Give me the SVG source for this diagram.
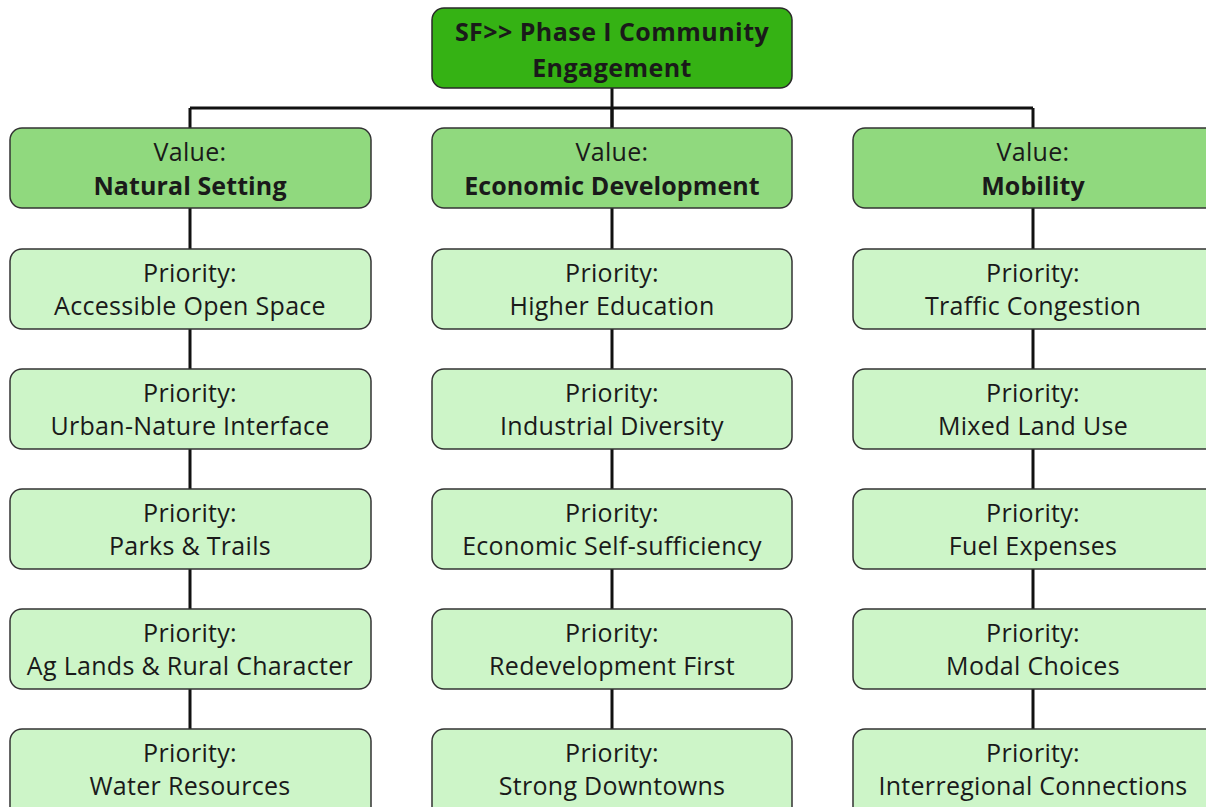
<svg xmlns="http://www.w3.org/2000/svg" width="1206" height="807" viewBox="0 0 1206 807">
<style>
.root{fill:#35b214;stroke:#2a2a2a;stroke-width:1.5}
.val{fill:#90d97e;stroke:#333;stroke-width:1.5}
.pri{fill:#cdf5c8;stroke:#333;stroke-width:1.5}
text{font-family:"Open Sans","Noto Sans",sans-serif;font-size:25px;fill:#1a1a1a;text-anchor:middle;letter-spacing:0.3px}
.b{font-weight:bold;letter-spacing:0.1px}
.r{letter-spacing:0.45px}
.conn line{stroke:#111;stroke-width:3}
</style>
<rect width="1206" height="807" fill="#fff"/>
<g class="conn">
<line x1="612" y1="88" x2="612" y2="128"/>
<line x1="190" y1="108" x2="1033" y2="108"/>
<line x1="190" y1="108" x2="190" y2="729"/>
<line x1="612" y1="108" x2="612" y2="729"/>
<line x1="1033" y1="108" x2="1033" y2="729"/>
</g>
<g id="root"><rect class="root" x="432" y="8" width="360" height="80" rx="12"/><text class="b r" x="612" y="41">SF&gt;&gt; Phase I Community</text><text class="b r" x="612" y="77">Engagement</text></g>
<g id="v1"><rect class="val" x="10" y="128" width="361" height="80" rx="12"/><text x="190" y="161">Value:</text><text class="b" x="190" y="195">Natural Setting</text></g>
<g id="v2"><rect class="val" x="432" y="128" width="360" height="80" rx="12"/><text x="612" y="161">Value:</text><text class="b" x="612" y="195">Economic Development</text></g>
<g id="v3"><rect class="val" x="853" y="128" width="365" height="80" rx="12"/><text x="1033" y="161">Value:</text><text class="b" x="1033" y="195">Mobility</text></g>
<g id="p11"><rect class="pri" x="10" y="249" width="361" height="80" rx="12"/><text x="190" y="282">Priority:</text><text x="190" y="315">Accessible Open Space</text></g>
<g id="p12"><rect class="pri" x="10" y="369" width="361" height="80" rx="12"/><text x="190" y="402">Priority:</text><text x="190" y="435">Urban-Nature Interface</text></g>
<g id="p13"><rect class="pri" x="10" y="489" width="361" height="80" rx="12"/><text x="190" y="522">Priority:</text><text x="190" y="555">Parks &amp; Trails</text></g>
<g id="p14"><rect class="pri" x="10" y="609" width="361" height="80" rx="12"/><text x="190" y="642">Priority:</text><text x="190" y="675">Ag Lands &amp; Rural Character</text></g>
<g id="p15"><rect class="pri" x="10" y="729" width="361" height="90" rx="12"/><text x="190" y="762">Priority:</text><text x="190" y="795">Water Resources</text></g>
<g id="p21"><rect class="pri" x="432" y="249" width="360" height="80" rx="12"/><text x="612" y="282">Priority:</text><text x="612" y="315">Higher Education</text></g>
<g id="p22"><rect class="pri" x="432" y="369" width="360" height="80" rx="12"/><text x="612" y="402">Priority:</text><text x="612" y="435">Industrial Diversity</text></g>
<g id="p23"><rect class="pri" x="432" y="489" width="360" height="80" rx="12"/><text x="612" y="522">Priority:</text><text x="612" y="555">Economic Self-sufficiency</text></g>
<g id="p24"><rect class="pri" x="432" y="609" width="360" height="80" rx="12"/><text x="612" y="642">Priority:</text><text x="612" y="675">Redevelopment First</text></g>
<g id="p25"><rect class="pri" x="432" y="729" width="360" height="90" rx="12"/><text x="612" y="762">Priority:</text><text x="612" y="795">Strong Downtowns</text></g>
<g id="p31"><rect class="pri" x="853" y="249" width="365" height="80" rx="12"/><text x="1033" y="282">Priority:</text><text x="1033" y="315">Traffic Congestion</text></g>
<g id="p32"><rect class="pri" x="853" y="369" width="365" height="80" rx="12"/><text x="1033" y="402">Priority:</text><text x="1033" y="435">Mixed Land Use</text></g>
<g id="p33"><rect class="pri" x="853" y="489" width="365" height="80" rx="12"/><text x="1033" y="522">Priority:</text><text x="1033" y="555">Fuel Expenses</text></g>
<g id="p34"><rect class="pri" x="853" y="609" width="365" height="80" rx="12"/><text x="1033" y="642">Priority:</text><text x="1033" y="675">Modal Choices</text></g>
<g id="p35"><rect class="pri" x="853" y="729" width="365" height="90" rx="12"/><text x="1033" y="762">Priority:</text><text x="1033" y="795">Interregional Connections</text></g>
</svg>
